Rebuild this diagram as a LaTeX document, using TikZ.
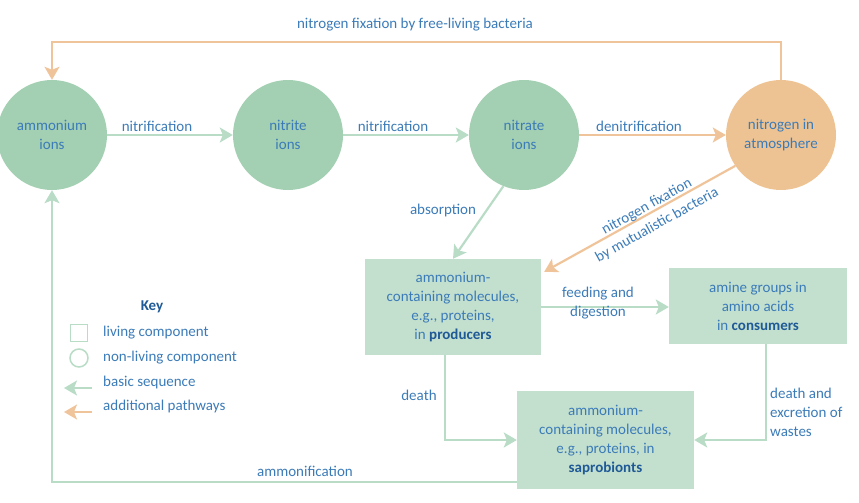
\documentclass[tikz,border=0pt]{standalone}
\usepackage{fontspec}
\setmainfont{Carlito}
\usetikzlibrary{arrows.meta}
\definecolor{txtblue}{HTML}{3B7BB8}
\definecolor{boldblue}{HTML}{1F5A96}
\definecolor{gcirc}{HTML}{A3CFB2}
\definecolor{gbox}{HTML}{C3E0CE}
\definecolor{gline}{HTML}{B9DCC6}
\definecolor{ocirc}{HTML}{EEC393}
\definecolor{oline}{HTML}{F0C49A}
\tikzset{
  lbl/.style={text=txtblue, font=\fontsize{15}{19}\selectfont, align=center, inner sep=0pt},
  circ/.style={circle, minimum size=110pt, inner sep=0pt, text=txtblue, align=center, font=\fontsize{15}{19}\selectfont},
  gcircle/.style={circ, fill=gcirc},
  ocircle/.style={circ, fill=ocirc},
  livebox/.style={rectangle, fill=gbox, inner sep=0pt, text=txtblue, align=center, font=\fontsize{15}{19}\selectfont},
  garrow/.style={draw=gline, line width=2.2pt, -{Stealth[length=13pt,width=15pt,inset=3pt]}, color=gline},
  oarrow/.style={draw=oline, line width=2.2pt, -{Stealth[length=13pt,width=15pt,inset=3pt]}, color=oline},
}
\newcommand{\bb}[1]{\textcolor{boldblue}{\textbf{#1}}}
\begin{document}
\begin{tikzpicture}[x=1pt,y=-1pt]
\useasboundingbox (0,0) rectangle (859,503);
% circles
\node[gcircle] (amm) at (52,135) {ammonium\\ions};
\node[gcircle] (nitrite) at (288,135) {nitrite\\ions};
\node[gcircle] (nitrate) at (524,135) {nitrate\\ions};
\node[ocircle] (nitrogen) at (781,135) {nitrogen in\\atmosphere};
% boxes
\node[livebox, minimum width=176pt, minimum height=96pt] (prod) at (453,307)
  {ammonium-\\containing molecules,\\e.g., proteins,\\in \bb{producers}};
\node[livebox, minimum width=178pt, minimum height=76pt] (cons) at (758,306)
  {amine groups in\\amino acids\\in \bb{consumers}};
\node[livebox, minimum width=177pt, minimum height=98pt] (sap) at (605.5,440)
  {ammonium-\\containing molecules,\\e.g., proteins, in\\\bb{saprobionts}};
% top pathway
\coordinate (topc) at (400,42);
\draw[oarrow] (nitrogen.north) -- (nitrogen.north |- topc) -| (amm.north);
\node[lbl] (lfree) at (415,25) {nitrogen fixation by free-living bacteria};
% basic sequence
\draw[garrow] (amm) -- (nitrite);
\node[lbl] (lnit1) at (157,126) {nitrification};
\draw[garrow] (nitrite) -- (nitrate);
\node[lbl] (lnit2) at (393,126) {nitrification};
\draw[oarrow] (nitrate) -- (nitrogen);
\node[lbl] (lden) at (639,126) {denitrification};
\draw[garrow] (nitrate.248) -- (prod.north);
\node[lbl] (labs) at (443,210) {absorption};
\coordinate (mutend) at ([xshift=3pt,yshift=-13pt]prod.north east);
\draw[oarrow] (nitrogen.214) -- (mutend);
\node[lbl, rotate=29, font=\fontsize{15}{21}\selectfont] (lmut) at (652,216) {nitrogen fixation\\by mutualistic bacteria};
\draw[garrow] (prod.east) -- (prod.east -| cons.west);
\node[lbl] (lfeed) at (598,303) {feeding and\\digestion};
\draw[garrow] ([xshift=-8pt]prod.south) |- (sap.west);
\node[lbl] (ldeath) at (419,395) {death};
\draw[garrow] ([xshift=8pt]cons.south) |- (sap.east);
\node[lbl, align=left, anchor=west] (ldeath2) at (770,412) {death and\\excretion of\\wastes};
\draw[garrow] ([yshift=-42pt]sap.west) -| (amm.south);
\node[lbl] (lammf) at (305,471) {ammonification};
% key
\node[lbl] (key) at (152,307) {\bb{Key}};
\node[draw=gline, line width=1.5pt, minimum size=17pt, inner sep=0pt] (ksq) at (79,333) {};
\node[lbl, anchor=west] (kl1) at (103,333) {living component};
\node[draw=gline, line width=1.5pt, circle, minimum size=18pt, inner sep=0pt] (kci) at (79,358) {};
\node[lbl, anchor=west] (kl2) at (103,358) {non-living component};
\coordinate (kg1) at (92,388); \coordinate (kg2) at (64,388);
\draw[garrow] (kg1) -- (kg2);
\node[lbl, anchor=west] (kl3) at (103,382) {basic sequence};
\coordinate (ko1) at (92,412); \coordinate (ko2) at (64,412);
\draw[oarrow] (ko1) -- (ko2);
\node[lbl, anchor=west] (kl4) at (103,406) {additional pathways};
\end{tikzpicture}
\end{document}
